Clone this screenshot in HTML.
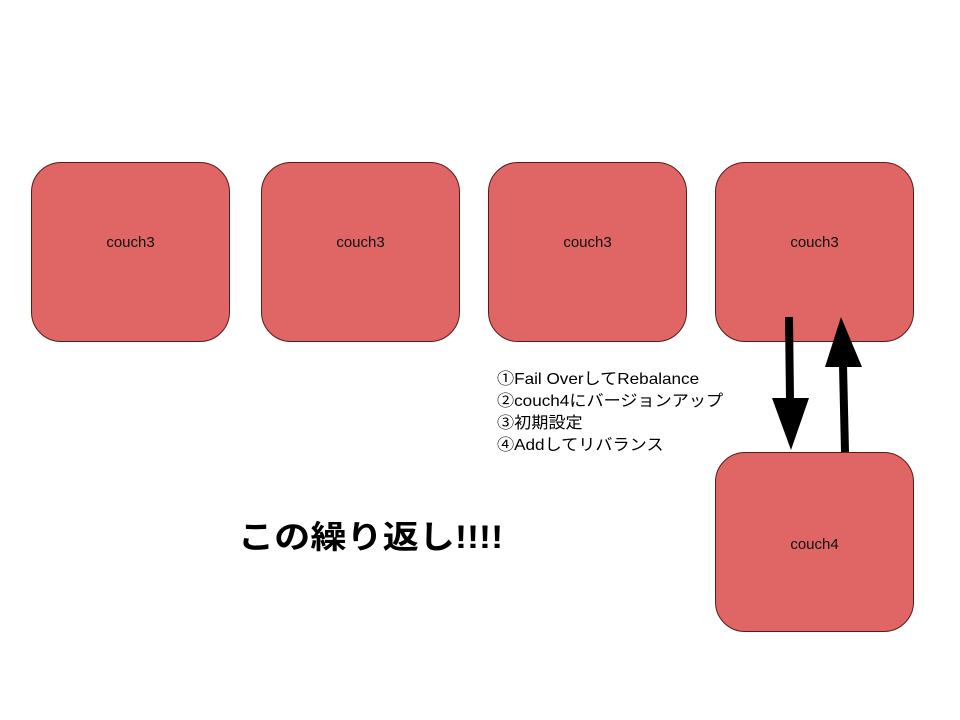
<!DOCTYPE html>
<html><head><meta charset="utf-8"><style>
body{margin:0;width:960px;height:720px;background:#fff;position:relative;overflow:hidden;font-family:"Liberation Sans","Noto Sans CJK JP",sans-serif}
.b{position:absolute;width:199px;height:180px;background:#e06666;border:1px solid #5a1a1a;border-radius:30px;box-sizing:border-box;text-align:center;padding-top:71px;font-size:15px;color:#111}
.t{position:absolute;left:497px;font-size:16px;line-height:22px;top:369px;color:#000;white-space:nowrap;transform:scaleX(1.07);transform-origin:left top}
.big{position:absolute;left:238px;top:514px;font-size:32px;font-weight:bold;white-space:nowrap;line-height:46px;transform:scaleX(1.13);transform-origin:left top}
</style></head><body>
<div class="b" style="left:31px;top:162px">couch3</div>
<div class="b" style="left:261px;top:162px">couch3</div>
<div class="b" style="left:488px;top:162px">couch3</div>
<div class="b" style="left:715px;top:162px">couch3</div>
<div class="b" style="left:715px;top:452px;padding-top:83px">couch4</div>
<div class="t">①Fail OverしてRebalance<br>②couch4にバージョンアップ<br>③初期設定<br>④Addしてリバランス</div>
<div class="big">この繰り返し!!!!</div>
<svg width="960" height="720" style="position:absolute;left:0;top:0">
<line x1="789" y1="317" x2="790" y2="400" stroke="#000" stroke-width="8"/>
<polygon points="772,398 809,398 791,450" fill="#000"/>
<line x1="845" y1="452" x2="843" y2="365" stroke="#000" stroke-width="8"/>
<polygon points="825,367 862,367 841,317" fill="#000"/>
</svg>
</body></html>
